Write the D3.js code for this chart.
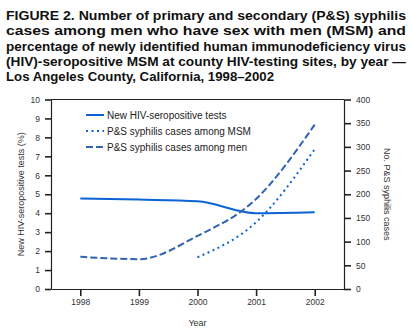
<!DOCTYPE html>
<html>
<head>
<meta charset="utf-8">
<script src="https://cdn.jsdelivr.net/npm/d3@7"></script>
<style>
  body { margin: 0; background: #fff; }
  svg { font-family: "Liberation Sans", Arial, sans-serif; }
</style>
</head>
<body>
<div id="chart"></div>
<script>
const width = 412;
const height = 336;

// data
const years = [1998, 1999, 2000, 2001, 2002];
const hivPct = [4.78, 4.72, 4.63, 4.0, 4.05];
const msmYears = [2000, 2001, 2002];
const msmCases = [67, 141, 295];
const menCases = [68, 63, 112, 190, 347];
const leftTicks = [0, 1, 2, 3, 4, 5, 6, 7, 8, 9, 10];
const rightTicks = [0, 50, 100, 150, 200, 250, 300, 350, 400];

const titleLines = [
    'FIGURE 2. Number of primary and secondary (P&S) syphilis',
    'cases among men who have sex with men (MSM) and',
    'percentage of newly identified human immunodeficiency virus',
    '(HIV)-seropositive MSM at county HIV-testing sites, by year \u2014',
    'Los Angeles County, California, 1998\u20132002'
];
const titleWidths = [400, 400, 400, 400, 268];

const legendItems = [
    { label: 'New HIV-seropositive tests', dash: null, color: '#0b63d6' },
    { label: 'P&S syphilis cases among MSM', dash: '2,3.5', color: '#0b63d6' },
    { label: 'P&S syphilis cases among men', dash: '7,3', color: '#2f63b4' }
];

let margin = { top: 99.5, right: 68, bottom: 47, left: 51 };

const svg = d3.select('#chart')
    .append('svg')
    .attr('width', width)
    .attr('height', height);

// title
titleLines.forEach((t, i) => {
    svg.append('text')
        .attr('x', 6)
        .attr('y', 20 + i * 15.25)
        .attr('font-size', 12.5)
        .attr('font-weight', 'bold')
        .attr('fill', '#111')
        .attr('textLength', titleWidths[i])
        .attr('lengthAdjust', 'spacingAndGlyphs')
        .text(t);
});

let x = d3.scaleLinear()
    .domain([1997.5, 2002.5])
    .range([margin.left, width - margin.right]);

let yL = d3.scaleLinear()
    .domain([0, 10])
    .range([height - margin.bottom, margin.top]);

let yR = d3.scaleLinear()
    .domain([0, 400])
    .range([height - margin.bottom, margin.top]);

// frame: top line
svg.append('line')
    .attr('x1', margin.left).attr('x2', width - margin.right)
    .attr('y1', margin.top).attr('y2', margin.top)
    .attr('stroke', '#222').attr('stroke-width', 1.2);

let xAxis = (g) => g
    .attr('transform', `translate(0,${height - margin.bottom})`)
    .call(d3.axisBottom(x).tickValues(years).tickFormat(d3.format('d')).tickSize(7).tickSizeOuter(0));

let yAxisL = (g) => g
    .attr('transform', `translate(${margin.left},0)`)
    .call(d3.axisLeft(yL).tickValues(leftTicks).tickSize(6).tickSizeOuter(0).tickPadding(5));

let yAxisR = (g) => g
    .attr('transform', `translate(${width - margin.right},0)`)
    .call(d3.axisRight(yR).tickValues(rightTicks).tickSize(7).tickSizeOuter(0).tickPadding(5));

[xAxis, yAxisL, yAxisR].forEach(ax => {
    let g = svg.append('g').call(ax);
    g.select('.domain').attr('stroke', '#222').attr('stroke-width', 1.2);
    g.selectAll('.tick line').attr('stroke', '#222').attr('stroke-width', 1.6);
    g.selectAll('.tick text').attr('font-size', 8.5).attr('fill', '#333')
        .attr('font-family', '"Liberation Sans", Arial, sans-serif');
});

// axis titles
svg.append('text')
    .attr('transform', `translate(24,${(margin.top + height - margin.bottom) / 2}) rotate(-90)`)
    .attr('text-anchor', 'middle')
    .attr('font-size', 9)
    .attr('fill', '#333')
    .text('New HIV-seropositive tests (%)');

svg.append('text')
    .attr('transform', `translate(384,${(margin.top + height - margin.bottom) / 2}) rotate(90)`)
    .attr('text-anchor', 'middle')
    .attr('font-size', 9)
    .attr('fill', '#333')
    .text('No. P&S syphilis cases');

svg.append('text')
    .attr('x', x(2000))
    .attr('y', 326)
    .attr('text-anchor', 'middle')
    .attr('font-size', 9)
    .attr('fill', '#333')
    .text('Year');

// lines
let lineL = d3.line()
    .x((d, i) => x(years[i]))
    .y(d => yL(d))
    .curve(d3.curveMonotoneX);

let lineMen = d3.line()
    .x((d, i) => x(years[i]))
    .y(d => yR(d))
    .curve(d3.curveMonotoneX);

let lineMsm = d3.line()
    .x((d, i) => x(msmYears[i]))
    .y(d => yR(d))
    .curve(d3.curveMonotoneX);

svg.append('path')
    .datum(hivPct)
    .attr('fill', 'none')
    .attr('stroke', legendItems[0].color)
    .attr('stroke-width', 2)
    .attr('d', lineL);

svg.append('path')
    .datum(msmCases)
    .attr('fill', 'none')
    .attr('stroke', legendItems[1].color)
    .attr('stroke-width', 2)
    .attr('stroke-dasharray', legendItems[1].dash)
    .attr('d', lineMsm);

svg.append('path')
    .datum(menCases)
    .attr('fill', 'none')
    .attr('stroke', legendItems[2].color)
    .attr('stroke-width', 2)
    .attr('stroke-dasharray', legendItems[2].dash)
    .attr('d', lineMen);

// legend
let legend = svg.append('g');
legendItems.forEach((item, i) => {
    let yy = 115 + i * 16;
    legend.append('line')
        .attr('x1', 86).attr('x2', 104)
        .attr('y1', yy).attr('y2', yy)
        .attr('stroke', item.color)
        .attr('stroke-width', 2)
        .attr('stroke-dasharray', item.dash);
    legend.append('text')
        .attr('x', 107)
        .attr('y', yy + 3.5)
        .attr('font-size', 10)
        .attr('fill', '#222')
        .text(item.label);
});
</script>
</body>
</html>
